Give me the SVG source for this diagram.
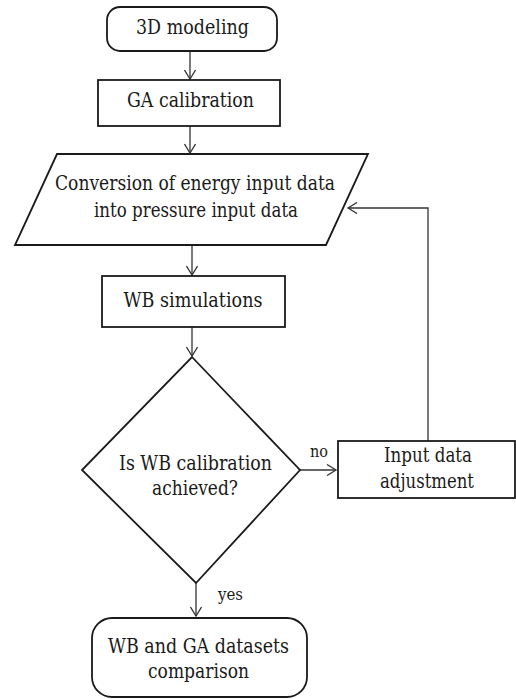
<svg xmlns="http://www.w3.org/2000/svg" width="516" height="699" viewBox="0 0 516 699">
<style>
.box{fill:#fff;stroke:#1a1a1a;stroke-width:1.8}
.t{font-family:'DejaVu Serif',serif;font-size:20.5px;fill:#1a1a1a;text-anchor:middle}
.s{font-family:'DejaVu Serif',serif;font-size:16px;fill:#1a1a1a}
.c{fill:none;stroke:#333;stroke-width:1.3}
</style>
<defs>
<marker id="arr" markerWidth="12" markerHeight="12" refX="10" refY="6" orient="auto" markerUnits="userSpaceOnUse">
<polyline points="1,0.5 10,6 1,11.5" fill="none" stroke="#333" stroke-width="1.3"/>
</marker>
</defs>
<rect width="516" height="699" fill="#fff"/>
<g id="connectors">
<line class="c" x1="190" y1="51" x2="190" y2="79" marker-end="url(#arr)"/>
<line class="c" x1="190" y1="126" x2="190" y2="153" marker-end="url(#arr)"/>
<line class="c" x1="192" y1="245" x2="192" y2="275" marker-end="url(#arr)"/>
<line class="c" x1="192" y1="327" x2="192" y2="356" marker-end="url(#arr)"/>
<line class="c" x1="300" y1="470" x2="336" y2="470" marker-end="url(#arr)"/>
<polyline class="c" points="428,441 428,208 348,208" marker-end="url(#arr)"/>
<line class="c" x1="196" y1="583" x2="196" y2="616" marker-end="url(#arr)"/>
<text class="s" x="310" y="457" textLength="18" lengthAdjust="spacingAndGlyphs">no</text>
<text class="s" x="218" y="600" textLength="25" lengthAdjust="spacingAndGlyphs">yes</text>
</g>
<g id="n1">
<rect class="box" x="107" y="7" width="170" height="44" rx="13"/>
<text class="t" x="192.5" y="34" textLength="113" lengthAdjust="spacingAndGlyphs">3D modeling</text>
</g>
<g id="n2">
<rect class="box" x="98" y="80" width="182" height="46"/>
<text class="t" x="190.5" y="107" textLength="127" lengthAdjust="spacingAndGlyphs">GA calibration</text>
</g>
<g id="n3">
<polygon class="box" points="57,154 368,154 326,245 15,245"/>
<text class="t" x="195" y="190" textLength="280" lengthAdjust="spacingAndGlyphs">Conversion of energy input data</text>
<text class="t" x="196" y="217" textLength="204" lengthAdjust="spacingAndGlyphs">into pressure input data</text>
</g>
<g id="n4">
<rect class="box" x="102" y="276" width="183" height="51"/>
<text class="t" x="193" y="307" textLength="139" lengthAdjust="spacingAndGlyphs">WB simulations</text>
</g>
<g id="n5">
<polygon class="box" points="192,357 300,470 196,583 82,470"/>
<text class="t" x="195.5" y="470" textLength="153" lengthAdjust="spacingAndGlyphs">Is WB calibration</text>
<text class="t" x="195" y="495" textLength="86" lengthAdjust="spacingAndGlyphs">achieved?</text>
</g>
<g id="n6">
<rect class="box" x="338" y="441" width="177" height="57"/>
<text class="t" x="428" y="462" textLength="88" lengthAdjust="spacingAndGlyphs">Input data</text>
<text class="t" x="427" y="488" textLength="94" lengthAdjust="spacingAndGlyphs">adjustment</text>
</g>
<g id="n7">
<rect class="box" x="92" y="618" width="215" height="79" rx="20"/>
<text class="t" x="198.5" y="653" textLength="181" lengthAdjust="spacingAndGlyphs">WB and GA datasets</text>
<text class="t" x="198.5" y="678" textLength="101" lengthAdjust="spacingAndGlyphs">comparison</text>
</g>
</svg>
